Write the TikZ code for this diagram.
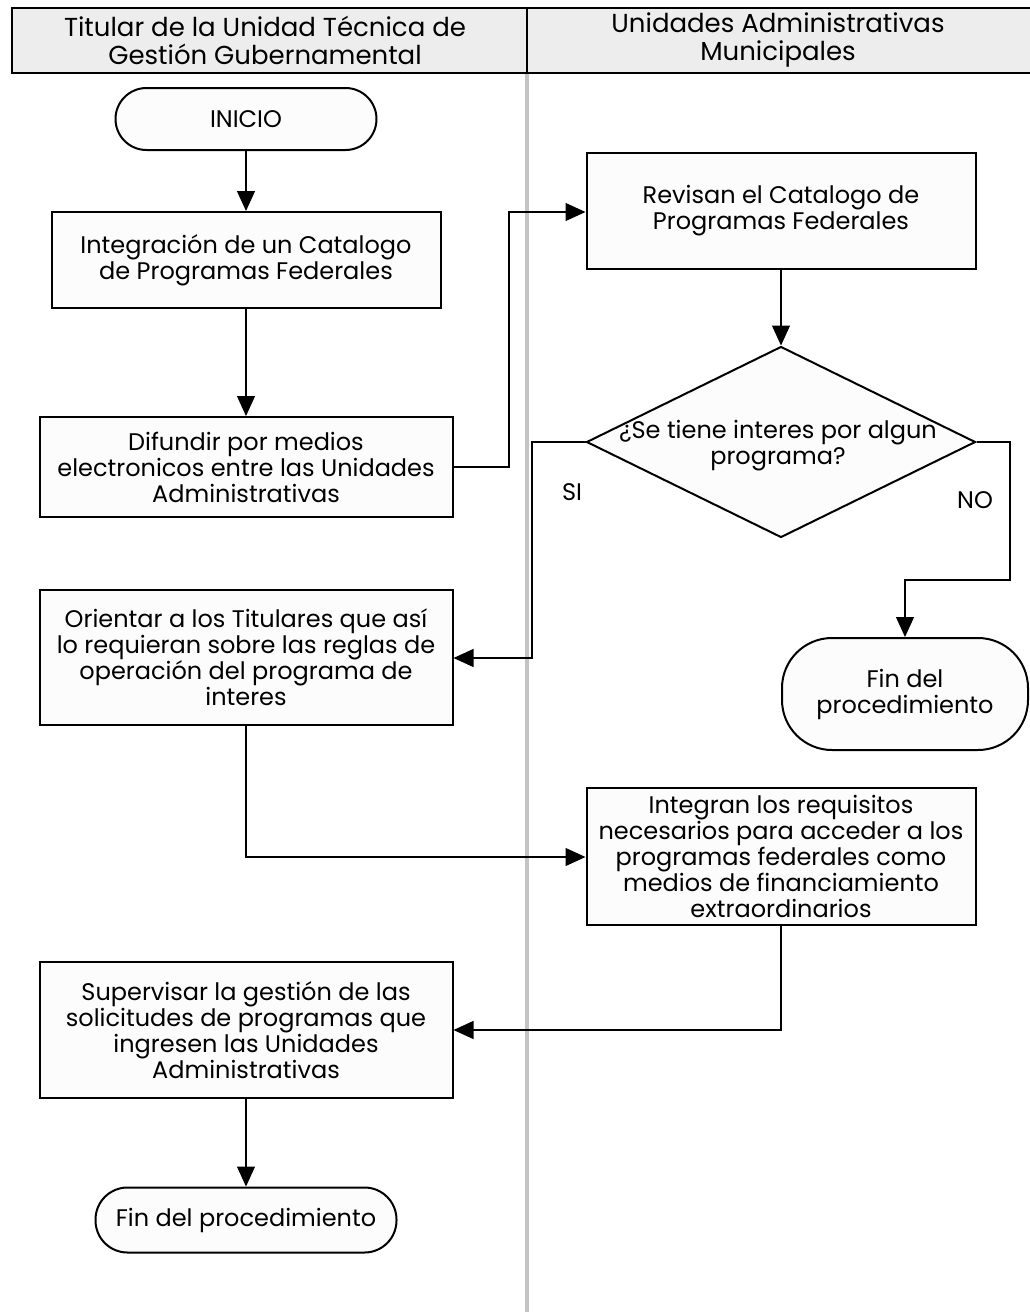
\documentclass[tikz,border=0pt]{standalone}
\usepackage{fontspec}
\setmainfont{Poppins}
\newfontfamily\headfont{Poppins}
\usetikzlibrary{shapes.geometric,arrows.meta}
\definecolor{headgray}{HTML}{EDEDED}
\definecolor{lanegray}{HTML}{C4C4C4}
\definecolor{boxfill}{HTML}{FCFCFC}
\begin{document}
\begin{tikzpicture}[x=1pt,y=-1pt,
    every node/.style={font=\fontsize{24}{26}\selectfont, align=center},
    box/.style={draw, line width=2pt, fill=boxfill, inner sep=0pt},
    term/.style={box, rounded corners=#1},
    decision/.style={box, diamond, minimum width=389pt, minimum height=191pt},
    flow/.style={line width=1.2pt, -{Triangle[length=20pt,width=18pt]}},
    lane/.style={draw, line width=2pt, fill=headgray}]
    \useasboundingbox (0,0) rectangle (1030,1312);
    % lanes
    \draw[lanegray, line width=4pt] (527,73) -- (527,1312);
    \draw[lane] (12,8) rectangle (527,73);
    \draw[lane] (527,8) rectangle (1040,73);
    \node[font=\headfont\fontsize{26}{28}\selectfont] (laneA) at (265,40) {Titular de la Unidad Técnica de\\Gestión Gubernamental};
    \node[font=\headfont\fontsize{26}{28}\selectfont] (laneB) at (778,40) {Unidades Administrativas\\Municipales};
    % left lane
    \node[term=31pt, minimum width=261pt, minimum height=62pt] (inicio) at (246,119) {INICIO};
    \node[box, minimum width=389pt, minimum height=96pt] (catalogo) at (246,260) {Integración de un Catalogo\\de Programas Federales};
    \node[box, minimum width=413pt, minimum height=100pt] (difundir) at (246,467) {Difundir por medios\\electronicos entre las Unidades\\Administrativas};
    \node[box, minimum width=413pt, minimum height=135pt] (orientar) at (246,657) {Orientar a los Titulares que así\\lo requieran sobre las reglas de\\operación del programa de\\interes};
    \node[box, minimum width=413pt, minimum height=136pt] (supervisar) at (246,1030) {Supervisar la gestión de las\\solicitudes de programas que\\ingresen las Unidades\\Administrativas};
    \node[term=32pt, minimum width=301pt, minimum height=65pt] (finA) at (246,1220) {Fin del procedimiento};
    % right lane
    \node[box, minimum width=389pt, minimum height=116pt] (revisan) at (781,211) {Revisan el Catalogo de\\Programas Federales};
    \node[decision] (interes) at (781,442) {};
    \node (pregunta) at (778,446) {¿Se tiene interes por algun\\programa?};
    \node[term=50pt, minimum width=246pt, minimum height=112pt] (finB) at (905,694) {Fin del\\procedimiento};
    \node[box, minimum width=389pt, minimum height=137pt] (integran) at (781,856) {Integran los requisitos\\necesarios para acceder a los\\programas federales como\\medios de financiamiento\\extraordinarios};
    % connectors
    \draw[flow] (inicio) -- (catalogo);
    \draw[flow] (catalogo) -- (difundir);
    \draw[flow] (difundir.east) -- (509,467) |- (revisan.west |- 0,212);
    \draw[flow] (revisan) -- (interes);
    \draw[flow] (interes.west) -- (532,442) |- (orientar.east |- 0,658);
    \draw[flow] (interes.east) -- (1010,442) -- (1010,580) -| (finB.north);
    \draw[flow] (orientar.south) |- (integran.west |- 0,857);
    \draw[flow] (integran.south) |- (supervisar.east);
    \draw[flow] (supervisar) -- (finA);
    \node (si) at (572,492) {SI};
    \node (no) at (975,500) {NO};
\end{tikzpicture}
\end{document}
